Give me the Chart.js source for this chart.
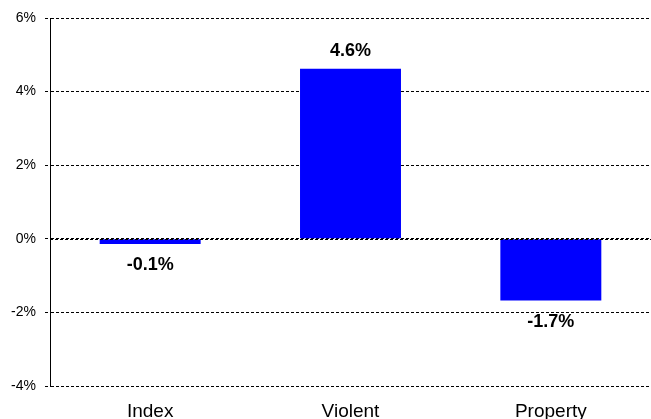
<!DOCTYPE html>
<html>
<head>
<meta charset="utf-8">
<script src="https://cdn.jsdelivr.net/npm/chart.js@4"></script>
<style>
  html, body { margin: 0; padding: 0; background: #fff; }
  #wrap { width: 651px; height: 419px; }
</style>
</head>
<body>
<div id="wrap"><canvas id="chart" width="651" height="419"></canvas></div>
<script>
const categories = ['Index', 'Violent', 'Property'];
const changes = [-0.14, 4.62, -1.68];
const labels = ['-0.1%', '4.6%', '-1.7%'];
const yTicks = [-4, -2, 0, 2, 4, 6];

const FONT = 'Arial, "Liberation Sans", sans-serif';

// zero line over the bars + value labels
const barLabels = {
  id: 'barLabels',
  afterDatasetsDraw(chart) {
    const ctx = chart.ctx;
    const y = chart.scales.y;
    ctx.save();
    ctx.strokeStyle = '#000';
    ctx.lineWidth = 1;
    ctx.setLineDash([3, 2]);
    const y0 = Math.round(y.getPixelForValue(0)) + 0.5;
    ctx.beginPath();
    ctx.moveTo(chart.chartArea.left, y0);
    ctx.lineTo(chart.chartArea.right, y0);
    ctx.stroke();
    ctx.restore();

    ctx.save();
    ctx.font = 'bold 18px ' + FONT;
    ctx.fillStyle = '#000';
    ctx.textAlign = 'center';
    ctx.textBaseline = 'middle';
    chart.getDatasetMeta(0).data.forEach((bar, i) => {
      const yy = changes[i] >= 0 ? bar.y - 18 : bar.y + 21;
      ctx.fillText(labels[i], bar.x, yy);
    });
    ctx.restore();
  }
};

new Chart(document.getElementById('chart'), {
  type: 'bar',
  data: {
    labels: categories,
    datasets: [{
      data: changes,
      backgroundColor: '#0000ff',
      borderWidth: 0,
      categoryPercentage: 1,
      barPercentage: 0.504
    }]
  },
  options: {
    responsive: false,
    animation: false,
    layout: { padding: { top: 18, right: 0, bottom: 0, left: 0 } },
    plugins: { legend: { display: false }, tooltip: { enabled: false } },
    scales: {
      x: {
        grid: { display: false },
        border: { display: false },
        ticks: { color: '#000', font: { size: 19, family: FONT }, padding: 6 },
        afterFit(s) { s.height = 33; }
      },
      y: {
        min: -4, max: 6,
        afterBuildTicks(s) { s.ticks = yTicks.map(v => ({ value: v })); },
        ticks: {
          color: '#000',
          font: { size: 14, family: FONT },
          padding: 9,
          callback: v => v + '%'
        },
        grid: { color: '#000', lineWidth: 1, tickLength: 5, tickColor: '#000', tickBorderDash: [3, 2] },
        border: { display: true, color: '#000', dash: [3, 2] },
        afterFit(s) { s.width = 50; }
      }
    }
  },
  plugins: [barLabels]
});
</script>
</body>
</html>
